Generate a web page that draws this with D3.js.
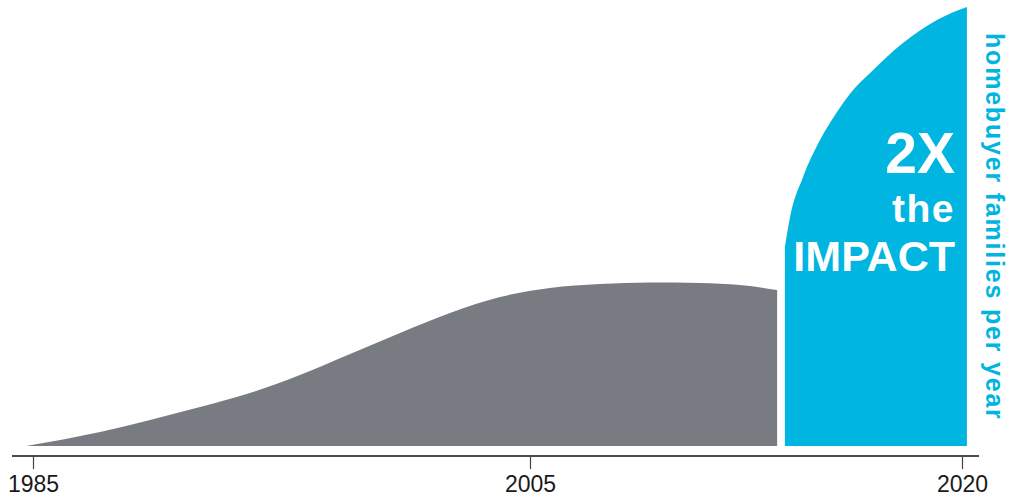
<!DOCTYPE html>
<html>
<head>
<meta charset="utf-8">
<script src="https://cdn.jsdelivr.net/npm/d3@7"></script>
<style>
  html, body { margin: 0; padding: 0; background: #fff; }
  svg { display: block; }
</style>
</head>
<body>
<svg id="chart" width="1011" height="497"></svg>
<script>
// Homebuyer families per year, earlier program (grey) vs. current program (blue)
const earlierYears  = [1984.72, 1987.7, 1989.71, 1991.72, 1993.73, 1995.74, 1997.76, 1999.77, 2001.78, 2003.79, 2005.69, 2007.43, 2009.17, 2010.9, 2012.29, 2013.58];
const earlierValues = [0, 14, 26, 39, 53, 71, 92, 113, 133, 149, 158, 162, 163.5, 163, 161, 156];

const currentYears  = [2013.85, 2014.03, 2014.48, 2015.07, 2015.66, 2016.22, 2016.81, 2017.95, 2019.13, 2020.17];
const currentValues = [199, 229, 269, 306, 334, 356, 373, 403, 426, 439];

const tickYears = [1985, 2005, 2020];
const tickLabels = ["1985", "2005", "2020"];
const headline = ["2X", "the", "IMPACT"];
const sideLabel = "homebuyer families per year";

const svg = d3.select("#chart");

const x = d3.scaleLinear().domain(tickYears).range([33, 530, 962]);
const y = d3.scaleLinear().domain([0, 440]).range([446, 6]);

const area = d3.area()
  .x(d => x(d[0]))
  .y0(y(0))
  .y1(d => y(d[1]))
  .curve(d3.curveMonotoneX);

svg.append("path")
  .datum(d3.zip(earlierYears, earlierValues))
  .attr("fill", "#797b82")
  .attr("d", area);

svg.append("path")
  .datum(d3.zip(currentYears, currentValues))
  .attr("fill", "#00b5e0")
  .attr("d", area);

// baseline
svg.append("line")
  .attr("x1", 12).attr("x2", 979)
  .attr("y1", 456).attr("y2", 456)
  .attr("stroke", "#111").attr("stroke-width", 1.6);

const axis = d3.axisBottom(x)
  .tickValues(tickYears)
  .tickFormat((d, i) => tickLabels[i])
  .tickSize(13)
  .tickPadding(7);

const gAxis = svg.append("g")
  .attr("transform", "translate(0,456)")
  .call(axis);
gAxis.select(".domain").remove();
gAxis.selectAll(".tick line").attr("stroke", "#444").attr("stroke-width", 1.2);
gAxis.selectAll(".tick text")
  .attr("fill", "#1a1a1a")
  .attr("font-family", "'Liberation Sans', Arial, sans-serif")
  .attr("font-size", 23);

// headline inside the blue area
const headSizes = [57, 39, 43];
const headBase = [173, 222, 271];
svg.append("g")
  .selectAll("text")
  .data(headline)
  .join("text")
  .attr("x", 955)
  .attr("y", (d, i) => headBase[i])
  .attr("text-anchor", "end")
  .attr("fill", "#fff")
  .attr("font-family", "'Liberation Sans', Arial, sans-serif")
  .attr("font-weight", "bold")
  .attr("font-size", (d, i) => headSizes[i])
  .attr("letter-spacing", (d, i) => i === 1 ? 1.5 : 0)
  .text(d => d);

// vertical measure label
svg.append("text")
  .attr("transform", "translate(986,33) rotate(90)")
  .attr("fill", "#00b5e0")
  .attr("font-family", "'Liberation Sans', Arial, sans-serif")
  .attr("font-weight", "bold")
  .attr("font-size", 25)
  .attr("letter-spacing", 1.8)
  .text(sideLabel);
</script>
</body>
</html>
